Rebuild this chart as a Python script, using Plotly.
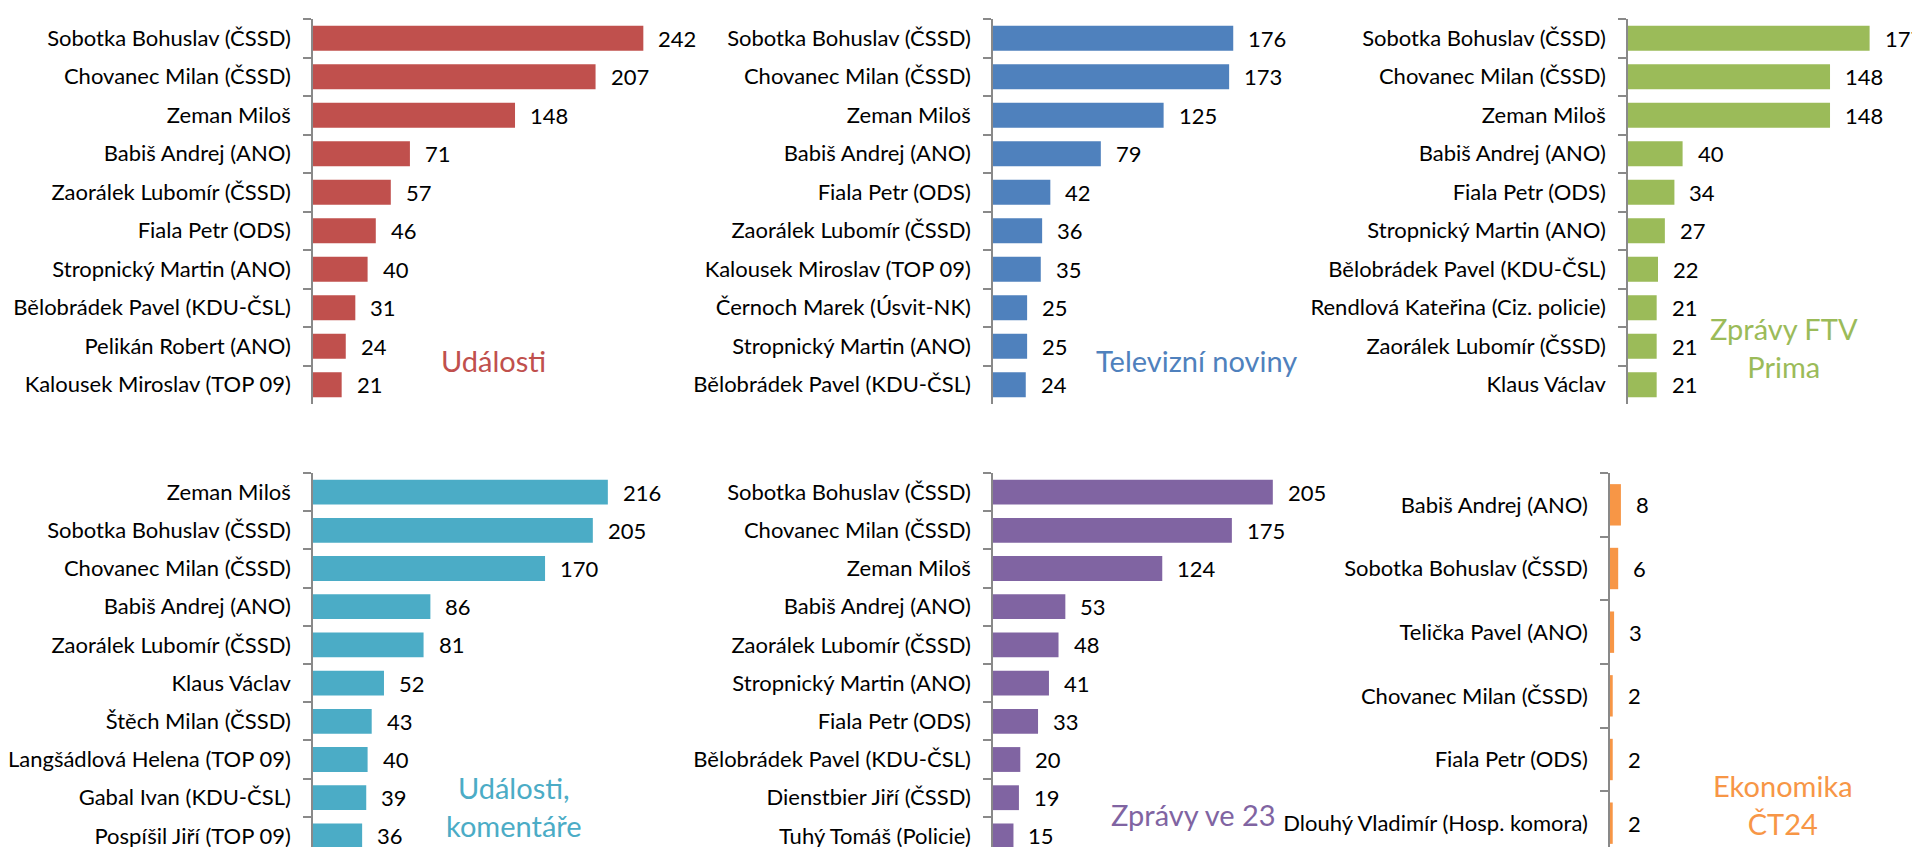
import plotly.graph_objects as go

# ---------------- data ----------------
udalosti_names = ["Sobotka Bohuslav (ČSSD)", "Chovanec Milan (ČSSD)", "Zeman Miloš", "Babiš Andrej (ANO)",
                  "Zaorálek Lubomír (ČSSD)", "Fiala Petr (ODS)", "Stropnický Martin (ANO)",
                  "Bělobrádek Pavel (KDU-ČSL)", "Pelikán Robert (ANO)", "Kalousek Miroslav (TOP 09)"]
udalosti_vals = [242, 207, 148, 71, 57, 46, 40, 31, 24, 21]

tn_names = ["Sobotka Bohuslav (ČSSD)", "Chovanec Milan (ČSSD)", "Zeman Miloš", "Babiš Andrej (ANO)",
            "Fiala Petr (ODS)", "Zaorálek Lubomír (ČSSD)", "Kalousek Miroslav (TOP 09)",
            "Černoch Marek (Úsvit-NK)", "Stropnický Martin (ANO)", "Bělobrádek Pavel (KDU-ČSL)"]
tn_vals = [176, 173, 125, 79, 42, 36, 35, 25, 25, 24]

prima_names = ["Sobotka Bohuslav (ČSSD)", "Chovanec Milan (ČSSD)", "Zeman Miloš", "Babiš Andrej (ANO)",
               "Fiala Petr (ODS)", "Stropnický Martin (ANO)", "Bělobrádek Pavel (KDU-ČSL)",
               "Rendlová Kateřina (Ciz. policie)", "Zaorálek Lubomír (ČSSD)", "Klaus Václav"]
prima_vals = [177, 148, 148, 40, 34, 27, 22, 21, 21, 21]

uk_names = ["Zeman Miloš", "Sobotka Bohuslav (ČSSD)", "Chovanec Milan (ČSSD)", "Babiš Andrej (ANO)",
            "Zaorálek Lubomír (ČSSD)", "Klaus Václav", "Štěch Milan (ČSSD)",
            "Langšádlová Helena (TOP 09)", "Gabal Ivan (KDU-ČSL)", "Pospíšil Jiří (TOP 09)"]
uk_vals = [216, 205, 170, 86, 81, 52, 43, 40, 39, 36]

z23_names = ["Sobotka Bohuslav (ČSSD)", "Chovanec Milan (ČSSD)", "Zeman Miloš", "Babiš Andrej (ANO)",
             "Zaorálek Lubomír (ČSSD)", "Stropnický Martin (ANO)", "Fiala Petr (ODS)",
             "Bělobrádek Pavel (KDU-ČSL)", "Dienstbier Jiří (ČSSD)", "Tuhý Tomáš (Policie)"]
z23_vals = [205, 175, 124, 53, 48, 41, 33, 20, 19, 15]

ek_names = ["Babiš Andrej (ANO)", "Sobotka Bohuslav (ČSSD)", "Telička Pavel (ANO)",
            "Chovanec Milan (ČSSD)", "Fiala Petr (ODS)", "Dlouhý Vladimír (Hosp. komora)"]
ek_vals = [8, 6, 3, 2, 2, 2]

titles = ["Události", "Televizní noviny", "Zprávy FTV<br>Prima",
          "Události,<br>komentáře", "Zprávy ve 23", "Ekonomika<br>ČT24"]
colors = ["#C0504D", "#4F81BD", "#9BBB59", "#4BACC6", "#8064A2", "#F79646"]

panels = [(udalosti_names, udalosti_vals), (tn_names, tn_vals), (prima_names, prima_vals),
          (uk_names, uk_vals), (z23_names, z23_vals), (ek_names, ek_vals)]

# ---------------- layout geometry (pixels) ----------------
W, H = 1920, 847
PX_PER_UNIT = 1.365
axis_x = [305, 985, 1620, 305, 985, 1602]
axis_w = [360, 360, 295, 360, 360, 300]
rows_y = [(11, 396), (11, 396), (11, 396), (465, 847), (465, 847), (465, 847)]
title_pos = [(485, 352), (1188, 352), (1776, 339), (506, 798), (1185, 806), (1775, 796)]

FONT = "Lato"
AXIS_GRAY = "#898989"

fig = go.Figure()
annotations = []
layout = dict(
    width=W, height=H, margin=dict(l=0, r=0, t=0, b=0, autoexpand=False),
    paper_bgcolor="white", plot_bgcolor="white", showlegend=False,
    font=dict(family=FONT, size=22, color="black"),
)

for i, ((names, vals), col) in enumerate(zip(panels, colors)):
    k = "" if i == 0 else str(i + 1)
    xa, ya = "x" + k, "y" + k
    fig.add_trace(go.Bar(
        x=vals, y=names, orientation="h", marker=dict(color=col, line=dict(width=0)),
        xaxis=xa, yaxis=ya, hoverinfo="x+y", width=0.65,
    ))
    x0 = axis_x[i]
    x1 = x0 + axis_w[i]
    ytop, ybot = rows_y[i]
    layout["xaxis" + k] = dict(
        domain=[x0 / W, x1 / W], range=[0, axis_w[i] / PX_PER_UNIT],
        visible=False, anchor=ya, fixedrange=True, automargin=False,
    )
    n = len(names)
    layout["yaxis" + k] = dict(
        domain=[1 - ybot / H, 1 - ytop / H], anchor=xa,
        type="category", categoryorder="array", categoryarray=names,
        range=[n - 0.5, -0.5], automargin=False,
        showline=True, linecolor=AXIS_GRAY, linewidth=1.5,
        ticks="outside", ticklen=8, tickwidth=1.5, tickcolor=AXIS_GRAY,
        tickson="boundaries", ticklabelstandoff=16,
        showgrid=False, zeroline=False,
        tickfont=dict(family=FONT, size=22, color="black"),
        fixedrange=True,
    )
    for nm, v in zip(names, vals):
        annotations.append(dict(
            x=v, y=nm, xref=xa, yref=ya, text=str(v), showarrow=False,
            xanchor="left", yanchor="middle", xshift=13,
            font=dict(family=FONT, size=22, color="black"),
        ))
    tx, ty = title_pos[i]
    annotations.append(dict(
        x=tx / W, y=1 - ty / H, xref="paper", yref="paper", text=titles[i],
        showarrow=False, xanchor="center", yanchor="middle", align="center",
        font=dict(family=FONT, size=29, color=col),
    ))

layout["annotations"] = annotations
fig.update_layout(**layout)
fig.write_html("out.html")
